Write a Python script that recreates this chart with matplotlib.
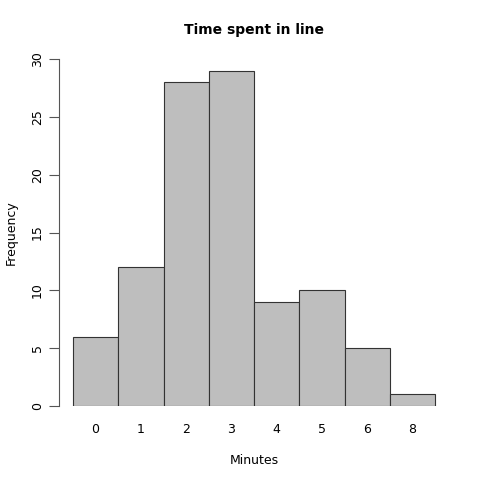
import numpy as np
import matplotlib.pyplot as plt

# minutes waited and how many people
minutes = ['0', '1', '2', '3', '4', '5', '6', '8']
counts = [6, 12, 28, 29, 9, 10, 5, 1]

fig = plt.figure(figsize=(4.8, 4.8), dpi=100)
ax = fig.add_axes([59/480, 1 - 406/480, 390/480, 347/480])

x = np.arange(len(minutes))
ax.bar(x, counts, width=1.0, color='#bebebe', edgecolor='#333333', linewidth=0.8)

ax.set_xlim(-0.5 - 14/45.25, -0.5 + 390/45.25 - 14/45.25)
ax.set_ylim(0, 30)

for s in ['top', 'right', 'bottom']:
    ax.spines[s].set_visible(False)
ax.spines['left'].set_color('#555555')
ax.spines['left'].set_bounds(0, 30)

ax.set_yticks([0, 5, 10, 15, 20, 25, 30])
ax.tick_params(axis='y', length=7, width=0.8, color='#555555', labelsize=9, rotation=90, pad=4)
for lab in ax.get_yticklabels():
    lab.set_verticalalignment('center')
ax.set_xticks(x)
ax.set_xticklabels(minutes)
ax.tick_params(axis='x', length=0, labelsize=9, pad=12)

ax.set_xlabel('Minutes', fontsize=9, labelpad=13)
ax.set_ylabel('Frequency', fontsize=9, labelpad=9)
ax.set_title('Time spent in line', fontsize=10, fontweight='bold', pad=18)

fig.savefig('out.png', dpi=100)
